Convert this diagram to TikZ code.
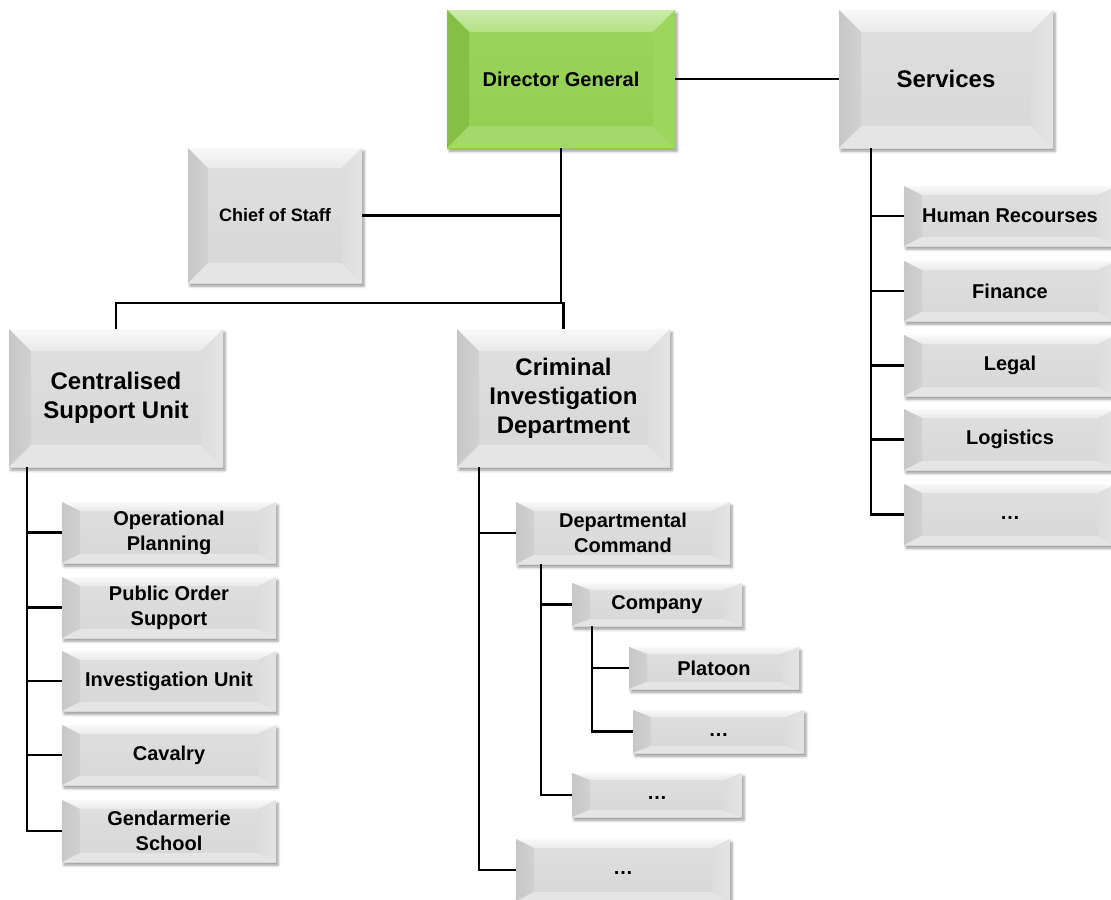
\documentclass[tikz,border=0pt]{standalone}
\usepackage{fontspec}
\setmainfont{Liberation Sans}
\usetikzlibrary{calc,shadows.blur}
\definecolor{grT}{HTML}{B4E285}
\definecolor{grL}{HTML}{84C045}
\definecolor{grB}{HTML}{A3D86A}
\definecolor{grR}{HTML}{9CD65E}
\definecolor{grF}{HTML}{92D050}
\newcommand\obox[7]{%
  \pgfmathsetmacro\bxcx{(#3+#5)/2}%
  \pgfmathsetmacro\bxcy{(#4+#6)/2}%
  \pgfmathsetmacro\bxw{(#5-#3)*0.75}%
  \pgfmathsetmacro\bxh{(#6-#4)*0.75}%
  \node[#1, minimum width=\bxw pt, minimum height=\bxh pt] (#2) at (\bxcx,\bxcy) {#7};%
}
\newcommand\mydots{\vphantom{Ag}\dots}
\begin{document}
\begin{tikzpicture}[x=0.75pt,y=-0.75pt,
  bevel/.style n args={6}{path picture={
    \coordinate (bA) at (path picture bounding box.north west);
    \coordinate (bB) at (path picture bounding box.north east);
    \coordinate (bC) at (path picture bounding box.south east);
    \coordinate (bD) at (path picture bounding box.south west);
    \coordinate (ba) at ($(bA)+(#1,#2)$);
    \coordinate (bb) at ($(bB)+(-#1,#2)$);
    \coordinate (bc) at ($(bC)+(-#1,-#2)$);
    \coordinate (bd) at ($(bD)+(#1,-#2)$);
    \path[#3] (bA)--(bB)--(bb)--(ba)--cycle;
    \path[#4] (bA)--(ba)--(bd)--(bD)--cycle;
    \path[#5] (bD)--(bd)--(bc)--(bC)--cycle;
    \path[#6] (bB)--(bb)--(bc)--(bC)--cycle;
  }},
  gbevT/.style={top color=gray!5, bottom color=gray!17},
  gbevL/.style={left color=gray!44, right color=gray!36},
  gbevB/.style={fill=gray!20},
  gbevR/.style={left color=gray!27, right color=gray!21},
  box/.style={inner sep=0pt, outer sep=0pt, align=center,
    top color=gray!25, bottom color=gray!31,
    blur shadow={shadow xshift=1.5pt, shadow yshift=-2.5pt, shadow blur radius=2pt, shadow opacity=40}},
  big/.style={box, bevel={22}{22}{gbevT}{gbevL}{gbevB}{gbevR}, font=\bfseries\fontsize{18}{21.75}\selectfont},
  small/.style={box, bevel={18}{9}{gbevT}{gbevL}{gbevB}{gbevR}, font=\bfseries\fontsize{15}{18.75}\selectfont},
  slim/.style={small, bevel={18}{7}{gbevT}{gbevL}{gbevB}{gbevR}},
  chief/.style={big, bevel={20}{20}{gbevT}{gbevL}{gbevB}{gbevR}, font=\bfseries\fontsize{13.5}{16}\selectfont},
  greenbox/.style={inner sep=0pt, outer sep=0pt, align=center,
    top color=grF!92!white, bottom color=grF,
    blur shadow={shadow xshift=1.5pt, shadow yshift=-2.5pt, shadow blur radius=2pt, shadow opacity=40},
    bevel={22}{22}{top color=grT!70!white, bottom color=grT}{fill=grL}{fill=grB}{fill=grR},
    font=\bfseries\fontsize{15}{18}\selectfont},
  link/.style={draw=black, line width=1.6pt}
]
\useasboundingbox (0,0) rectangle (1111,900);

% top level
\obox{greenbox}{dg}{447}{10}{675}{148}{Director General}
\obox{big}{sv}{839}{10}{1053}{148}{Services}
\obox{chief}{cos}{188}{148}{362}{283}{Chief of Staff}
\obox{big}{csu}{9}{329}{223}{467}{Centralised\\Support Unit}
\obox{big}{cid}{457}{329}{670}{467}{Criminal\\Investigation\\Department}

% CSU children
\obox{small}{op}{62}{502}{276}{563}{Operational\\Planning}
\obox{small}{pos}{62}{577}{276}{638}{Public Order\\Support}
\obox{small}{iu}{62}{651}{276}{711}{Investigation Unit}
\obox{small}{cav}{62}{725}{276}{785}{Cavalry}
\obox{small}{gs}{62}{800}{276}{862}{Gendarmerie\\School}

% Services children
\obox{small}{hr}{904}{186}{1116}{246}{Human Recourses}
\obox{small}{fin}{904}{261}{1116}{321}{Finance}
\obox{small}{leg}{904}{335}{1116}{396}{Legal}
\obox{small}{logi}{904}{409}{1116}{470}{Logistics}
\obox{small}{sdots}{904}{484}{1116}{545}{\mydots}

% CID children
\obox{small}{dc}{516}{502}{730}{564}{Departmental\\Command}
\obox{slim}{co}{572}{583}{742}{626}{Company}
\obox{slim}{pl}{629}{647}{799}{689}{Platoon}
\obox{slim}{pdots}{633}{710}{804}{753}{\mydots}
\obox{slim}{cdots}{572}{773}{742}{817}{\mydots}
\obox{small}{ddots}{516}{839}{730}{901}{\mydots}

% connectors top
\draw[link] (dg.east) -- (sv.west);
\coordinate (bus) at (340,303);
\draw[link] (dg.south) -- (dg.south |- bus);
\draw[link] (cos.east) -- (cos.east -| dg.south);
\draw[link] (csu.north) |- (bus) -| (cid.north);

% trunks
\coordinate (csut) at ($(csu.south west)+(18,0)$);
\foreach \n in {op,pos,iu,cav,gs} \draw[link] (csut) |- (\n.west);
\coordinate (svt) at ($(sv.south west)+(32,0)$);
\foreach \n in {hr,fin,leg,logi,sdots} \draw[link] (svt) |- (\n.west);
\coordinate (cidt) at ($(cid.south west)+(22,0)$);
\foreach \n in {dc,ddots} \draw[link] (cidt) |- (\n.west);
\coordinate (dct) at ($(dc.south west)+(25,0)$);
\foreach \n in {co,cdots} \draw[link] (dct) |- (\n.west);
\coordinate (cot) at ($(co.south west)+(20,0)$);
\foreach \n in {pl,pdots} \draw[link] (cot) |- (\n.west);
\end{tikzpicture}
\end{document}
